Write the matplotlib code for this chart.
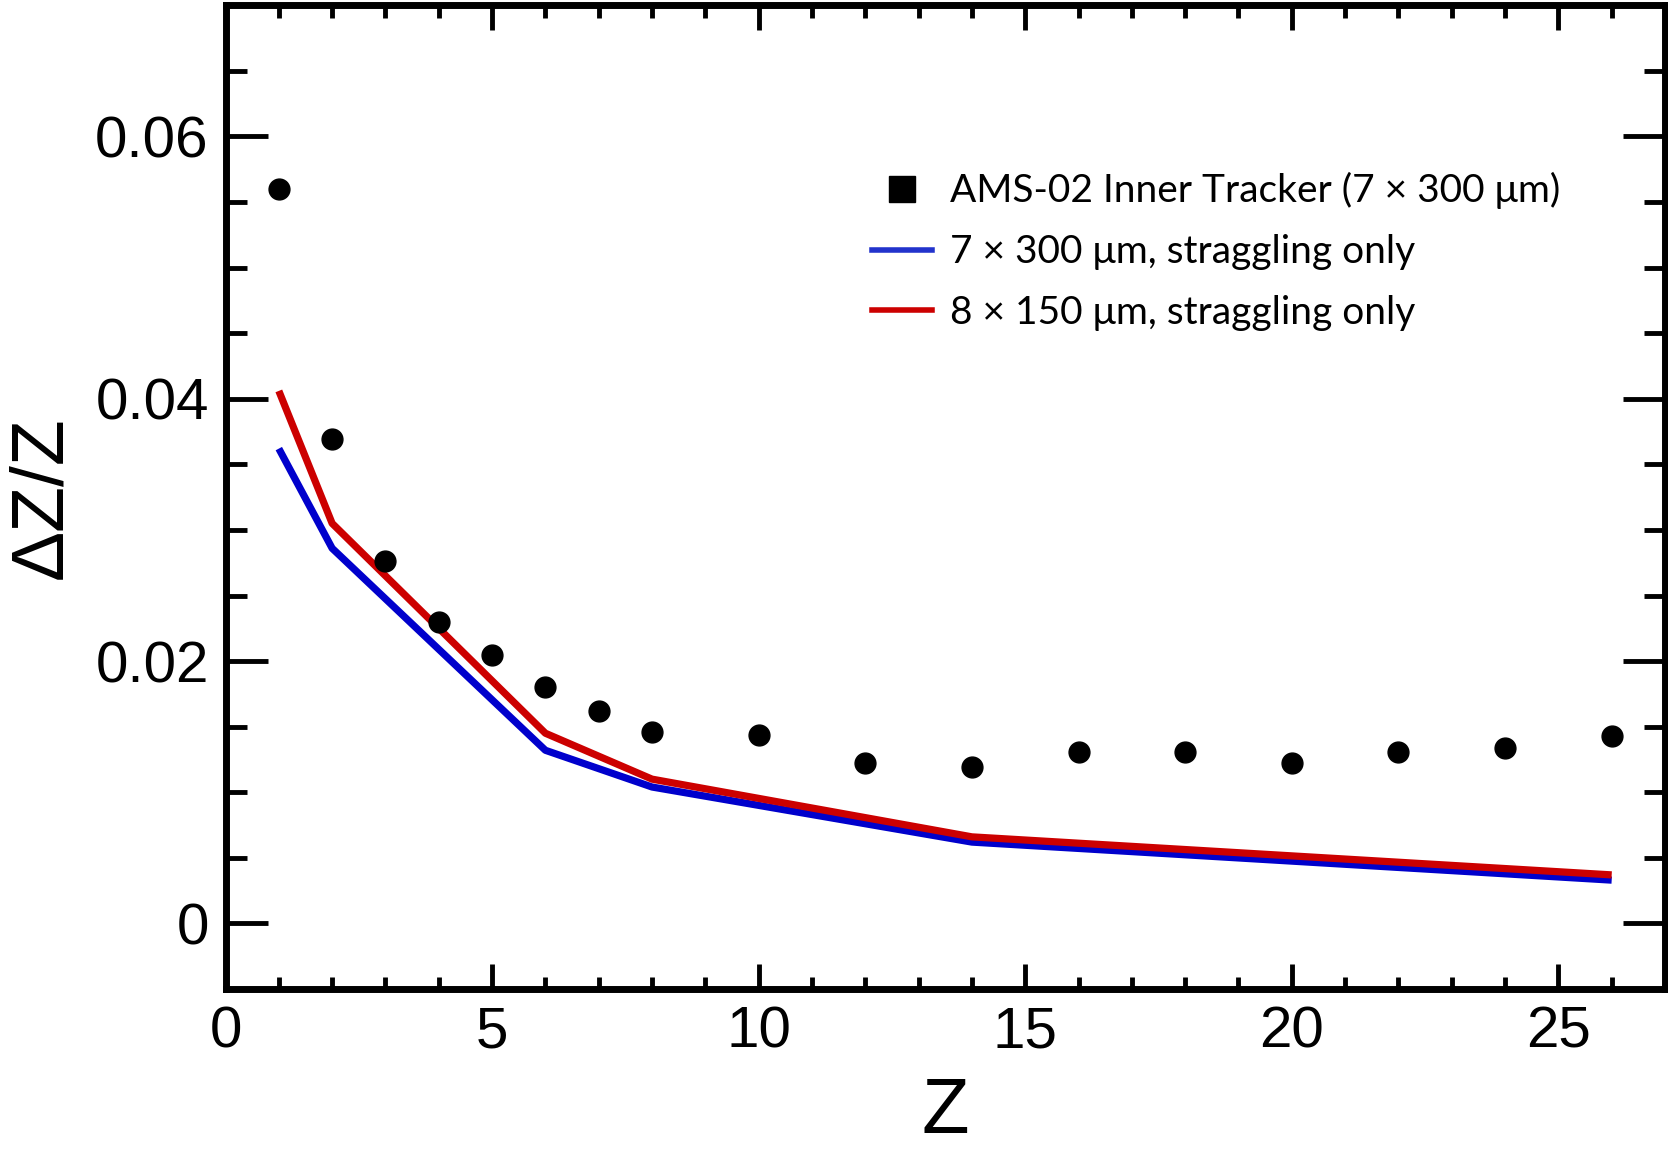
import matplotlib
matplotlib.use("Agg")
import matplotlib.pyplot as plt
from matplotlib.lines import Line2D
from matplotlib.ticker import MultipleLocator

# Data
z_ams = [1, 2, 3, 4, 5, 6, 7, 8, 10, 12, 14, 16, 18, 20, 22, 24, 26]
dz_ams = [0.0560, 0.0369, 0.0276, 0.0230, 0.0205, 0.0180, 0.0162, 0.0146,
          0.0144, 0.0122, 0.0119, 0.0131, 0.0131, 0.0122, 0.0131, 0.0134, 0.0143]
z_sim = [1, 2, 6, 8, 14, 26]
dz_7x300 = [0.0362, 0.0286, 0.0132, 0.0104, 0.0062, 0.0033]
dz_8x150 = [0.0406, 0.0305, 0.0145, 0.0110, 0.0066, 0.0037]

labels = ["AMS-02 Inner Tracker (7 \u00d7 300 \u03bcm)",
          "7 \u00d7 300 \u03bcm, straggling only",
          "8 \u00d7 150 \u03bcm, straggling only"]

fig = plt.figure(figsize=(16.68, 11.5), dpi=100)
ax = fig.add_axes([0.1352, 0.14, 0.863, 0.8554])

ax.plot(z_sim, dz_7x300, color="#0000cc", lw=5.2, solid_capstyle="butt", zorder=2)
ax.plot(z_sim, dz_8x150, color="#cc0000", lw=5.2, solid_capstyle="butt", zorder=2)
ax.plot(z_ams, dz_ams, "o", color="black", ms=15, zorder=3, ls="none")

ax.set_xlim(0, 27)
ax.set_ylim(-0.005, 0.07)
ax.xaxis.set_major_locator(MultipleLocator(5))
ax.xaxis.set_minor_locator(MultipleLocator(1))
ax.yaxis.set_major_locator(MultipleLocator(0.02))
ax.yaxis.set_minor_locator(MultipleLocator(0.005))
ax.set_xticks([0, 5, 10, 15, 20, 25])
ax.set_xticklabels(["0", "5", "10", "15", "20", "25"])
ax.set_yticks([0, 0.02, 0.04, 0.06])
ax.set_yticklabels(["0", "0.02", "0.04", "0.06"])

for s in ax.spines.values():
    s.set_linewidth(5)

tickfont = "Liberation Sans"
ax.tick_params(axis="both", which="both", direction="in", top=True, right=True, width=3.5)
ax.tick_params(axis="x", which="major", length=18, pad=12)
ax.tick_params(axis="x", which="minor", length=9)
ax.tick_params(axis="y", which="major", length=30, pad=12)
ax.tick_params(axis="y", which="minor", length=15)
for lab in ax.get_xticklabels() + ax.get_yticklabels():
    lab.set_fontfamily(tickfont)
    lab.set_fontsize(42)

ax.set_xlabel("Z", fontfamily=tickfont, fontsize=56, labelpad=12)
ax.set_ylabel("\u0394Z/Z", fontfamily=tickfont, fontsize=54, labelpad=14)

handles = [Line2D([], [], marker="s", color="black", ls="none", ms=19),
           Line2D([], [], color="#2233cc", lw=4),
           Line2D([], [], color="#cc0000", lw=4)]
leg = ax.legend(handles, labels, loc="upper left", bbox_to_anchor=(0.4247, 0.866),
                frameon=False, prop={"family": "Lato", "size": 28},
                handlelength=1.54, handletextpad=0.46, labelspacing=0.64)

fig.savefig("out.png", dpi=100)
